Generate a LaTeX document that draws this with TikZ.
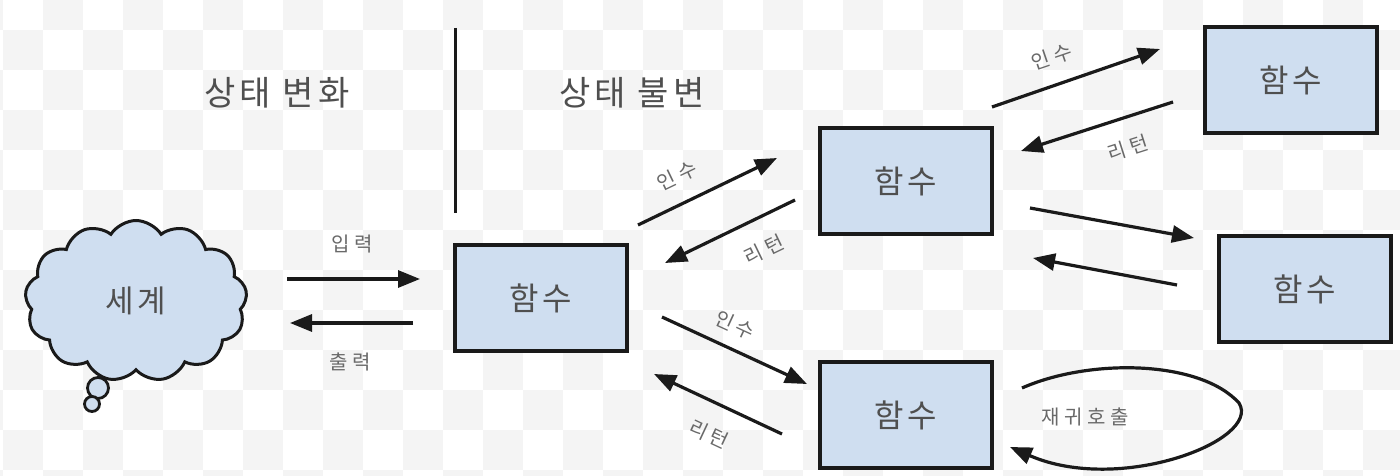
\documentclass[tikz,border=0pt]{standalone}
\usepackage{fontspec}
\newfontfamily\kr[LetterSpace=12]{Noto Sans CJK KR}
\newfontfamily\krl[LetterSpace=22]{Noto Sans CJK KR}
\usetikzlibrary{arrows.meta,shapes.symbols}
\definecolor{boxfill}{HTML}{CFDEF0}
\definecolor{txt}{HTML}{4F4F4F}
\definecolor{ink}{HTML}{1A1A1A}
\definecolor{chk}{HTML}{F4F4F4}
\tikzset{
  fnbox/.style={draw=ink, fill=boxfill, line width=3.2pt, minimum width=172pt, minimum height=106pt, inner sep=0pt,
    font=\kr\fontsize{32}{38}\selectfont, text=txt},
  conn/.style={draw=ink, line width=3.2pt, -{Triangle[length=22pt,width=17pt]}},
  lbl/.style={font=\krl\fontsize{20}{24}\selectfont, text=txt!85, inner sep=0pt},
  title/.style={font=\kr\fontsize{34}{40}\selectfont, text=txt, inner sep=0pt},
  bubble/.style={draw=ink, fill=boxfill, line width=2.8pt, circle, inner sep=0pt},
}
\begin{document}
\begin{tikzpicture}[x=1pt,y=-1pt]
\useasboundingbox (0,0) rectangle (1400,476);
\fill[white] (0,0) rectangle (1400,476);
% checkerboard background
\begin{scope}
\clip (0,0) rectangle (1400,476);
\foreach \i in {-1,...,34}{
  \foreach \j in {0,...,12}{
    \pgfmathtruncatemacro{\pty}{mod(\i+\j+100,2)}
    \ifnum\pty=1
      \fill[chk] (3+40*\i,-10+40*\j) rectangle (43+40*\i,30+40*\j);
    \fi
  }
}
\end{scope}

% titles and divider
\node[title] (t1) at (277,93) {상태 변화};
\node[title] (t2) at (632,93) {상태 불변};
\coordinate (d1) at (455,28);
\coordinate (d2) at (455,213);
\draw[ink, line width=3pt] (d1) -- (d2);

% world cloud
\node[cloud, cloud puffs=13, cloud puff arc=115, aspect=1.38, draw=ink, fill=boxfill, line width=3pt,
  minimum width=222pt, minimum height=161pt, inner sep=0pt,
  font=\kr\fontsize{31}{36}\selectfont, text=txt] (world) at (136,301) {세계};
\node[bubble, minimum size=21pt] (b1) at (98,388) {};
\node[bubble, minimum size=15pt] (b2) at (92,404) {};

% function boxes
\node[fnbox] (f1) at (541,298) {함수};
\node[fnbox] (f2) at (906,181) {함수};
\node[fnbox] (f3) at (1291,80) {함수};
\node[fnbox] (f4) at (1305,289) {함수};
\node[fnbox] (f5) at (906,415) {함수};

% input / output
\coordinate (in1) at (287,279); \coordinate (in2) at (420,279);
\coordinate (out1) at (413,323); \coordinate (out2) at (290,323);
\draw[conn] (in1) -- (in2);
\draw[conn] (out1) -- (out2);
\node[lbl] (lin) at (352,244) {입력};
\node[lbl] (lout) at (350,362) {출력};

% f1 <-> f2
\coordinate (a1) at (638,225); \coordinate (a2) at (777,158);
\coordinate (r1) at (795,200); \coordinate (r2) at (665,263);
\draw[conn] (a1) -- (a2);
\draw[conn] (r1) -- (r2);
\node[lbl, rotate=25.7] (la12) at (677,176) {인수};
\node[lbl, rotate=25.8] (lr21) at (764,250) {리턴};

% f2 <-> f3
\coordinate (a3) at (992,107); \coordinate (a4) at (1160,49);
\coordinate (r3) at (1173,102); \coordinate (r4) at (1021,151);
\draw[conn] (a3) -- (a4);
\draw[conn] (r3) -- (r4);
\node[lbl, rotate=18.9] (la23) at (1052,57) {인수};
\node[lbl, rotate=17.7] (lr32) at (1128,148) {리턴};

% f2 <-> f4
\coordinate (a5) at (1030,208); \coordinate (a6) at (1194,238);
\coordinate (r5) at (1177,285); \coordinate (r6) at (1033,258);
\draw[conn] (a5) -- (a6);
\draw[conn] (r5) -- (r6);

% f1 <-> f5
\coordinate (a7) at (662,317); \coordinate (a8) at (807,384);
\coordinate (r7) at (782,434); \coordinate (r8) at (654,374);
\draw[conn] (a7) -- (a8);
\draw[conn] (r7) -- (r8);
\node[lbl, rotate=-24.8] (la15) at (735,325) {인수};
\node[lbl, rotate=-25.1] (lr51) at (709,434) {리턴};

% recursion loop
\coordinate (l1) at (1022,388);
\coordinate (l2) at (1239,403);
\coordinate (l3) at (1010,447);
\draw[conn] (l1) .. controls (1090,358) and (1200,360) .. (l2)
  .. controls (1262,440) and (1120,495) .. (l3);
\node[lbl] (lrec) at (1085,417) {재귀호출};
\end{tikzpicture}
\end{document}
